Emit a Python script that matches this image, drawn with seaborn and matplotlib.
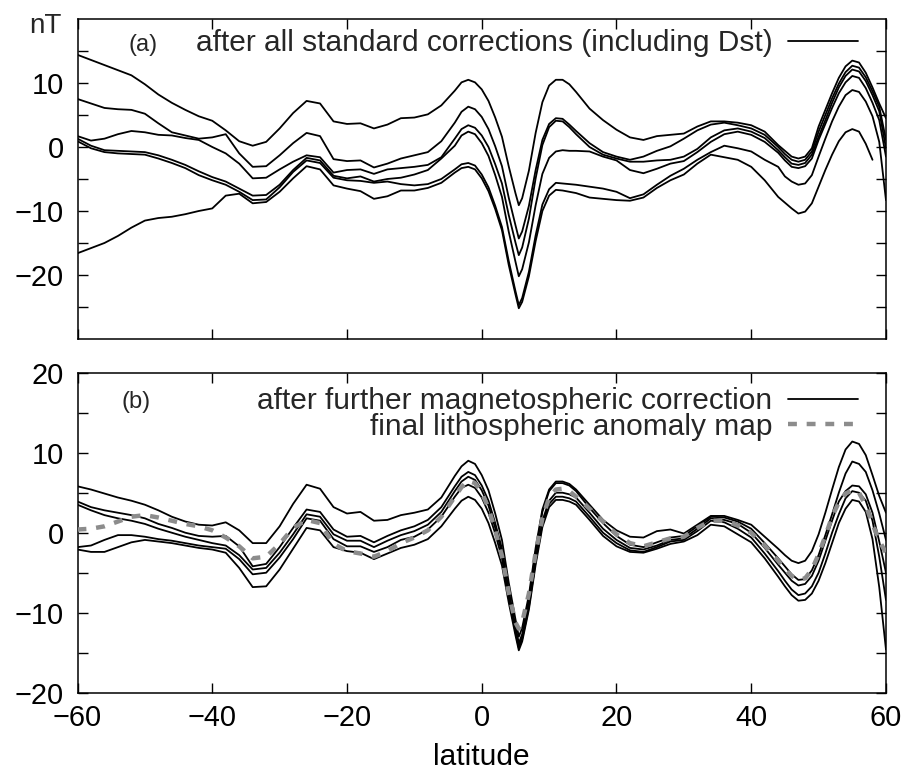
import numpy as np
import pandas as pd
import matplotlib
matplotlib.use("Agg")
import matplotlib.pyplot as plt
import seaborn as sns

# ---------------- data (nT vs latitude) ----------------
lat = [-60, -58, -56, -54, -52, -50, -48, -46, -44, -42, -40, -38, -36, -34, -32, -30, -28, -26, -24, -22,
       -20, -18, -16, -14, -12, -10, -8, -6, -4,
       -3, -2, -1, 0, 1, 2, 3, 4, 5, 5.5, 6, 7, 8, 9, 10, 11, 12, 13, 14,
       16, 18, 20, 22, 24, 26, 28, 30, 32, 34, 36, 38, 40, 42, 44,
       45, 46, 47, 48, 49, 50, 51, 52, 53, 54, 55, 56, 57, 58, 59, 60]

# panel (a): after all standard corrections (including Dst)
a1 = [14.4, 13.6, 12.8, 12.0, 11.2, 9.8, 8.2, 6.9, 5.8, 4.8, 4.1, 2.6, 0.9, 0.2, 0.8, 2.9, 5.3, 7.2, 6.8, 4.0,
      3.6, 3.7, 2.9, 3.5, 4.5, 4.6, 5.1, 6.5, 8.8,
      10.1, 10.5, 10.1, 9.0, 7.2, 4.6, 1.6, -3.0, -7.2, -9.1, -8.0, -3.7, 2.2, 7.0, 9.6, 10.5, 10.5, 9.8, 8.6,
      6.0, 4.2, 2.7, 1.5, 1.1, 1.7, 1.9, 2.1, 3.2, 4.0, 4.0, 3.8, 3.4, 2.4, 0.3,
      -0.6, -1.5, -1.8, -1.5, -0.2, 3.2, 5.8, 8.4, 10.8, 12.6, 13.5, 13.2, 11.6, 9.3, 6.8, 4.5]
a2 = [7.5, 6.8, 6.1, 5.9, 5.8, 5.2, 3.7, 2.3, 1.8, 1.3, 1.5, 2.0, -1.0, -3.1, -3.0, -1.3, 0.6, 2.2, 1.7, -1.9,
      -2.2, -2.1, -3.2, -2.6, -1.8, -1.3, -0.8, 0.9, 3.8,
      5.5, 6.3, 5.9, 4.7, 2.8, 0.1, -3.0, -7.9, -12.2, -14.3, -13.2, -9.2, -3.6, 1.1, 3.6, 4.5, 4.4, 3.5, 2.5,
      0.6, -0.8, -1.5, -2.0, -1.5, -0.6, 0.1, 1.3, 2.6, 3.5, 3.8, 3.4, 2.9, 1.9, 0.0,
      -1.1, -2.0, -2.3, -2.0, -0.7, 2.4, 5.0, 7.6, 9.9, 11.7, 12.7, 12.4, 10.9, 8.7, 6.3, 1.1]
a3 = [1.7, 1.0, 1.3, 2.0, 2.5, 2.3, 1.9, 1.8, 1.4, 1.1, 0.0, -1.0, -2.6, -4.9, -4.8, -3.5, -2.3, -1.3, -1.6, -4.0,
      -3.6, -3.5, -4.2, -3.5, -3.3, -3.1, -2.8, -1.6, 1.3,
      2.8, 3.4, 3.0, 1.8, 0.0, -2.7, -5.7, -10.6, -14.9, -16.9, -15.7, -11.2, -4.9, 0.3, 3.1, 4.1, 4.0, 3.1, 2.0,
      0.0, -1.2, -1.8, -2.3, -2.3, -2.1, -2.0, -1.5, -0.3, 1.5, 2.6, 2.9, 2.4, 1.4, -0.5,
      -1.6, -2.6, -2.8, -2.5, -1.2, 1.6, 4.2, 6.9, 9.3, 11.1, 12.1, 11.8, 10.3, 8.1, 5.6, -0.2]
a4 = [1.3, 0.2, -0.5, -0.6, -0.7, -0.8, -1.3, -2.0, -2.8, -3.8, -4.7, -5.4, -6.5, -7.6, -7.5, -5.9, -3.6, -1.7, -2.1, -4.5,
      -4.9, -4.6, -5.4, -5.0, -4.8, -4.3, -3.6, -1.8, 0.2,
      1.8, 2.4, 2.0, 0.6, -1.4, -4.4, -7.8, -13.2, -17.9, -20.2, -19.1, -14.9, -9.1, -4.2, -1.7, -0.7, -0.5, -0.6, -0.6,
      -0.7, -1.5, -2.1, -3.6, -4.1, -3.4, -2.6, -2.2, -0.8, 0.8, 2.0, 2.4, 1.9, 0.8, -0.9,
      -2.1, -3.1, -3.3, -3.0, -1.8, 1.1, 3.6, 6.1, 8.4, 10.1, 11.1, 10.8, 9.2, 6.9, 4.2, -1.5]
a5 = [0.9, -0.2, -0.8, -1.0, -1.1, -1.2, -1.8, -2.5, -3.3, -4.4, -5.2, -5.9, -7.0, -8.3, -8.2, -6.3, -3.9, -2.1, -2.5, -4.8,
      -5.2, -5.3, -5.6, -5.4, -5.8, -6.0, -5.8, -5.0, -3.5,
      -2.7, -2.5, -2.9, -4.3, -6.3, -9.2, -12.5, -17.8, -22.5, -24.7, -23.6, -19.5, -13.8, -9.0, -6.6, -5.6, -5.7, -5.8, -5.9,
      -6.2, -6.5, -7.0, -8.0, -7.4, -5.9, -4.5, -3.4, -2.0, -0.8, 0.2, -0.2, -0.7, -2.0, -3.1,
      -4.6, -5.4, -5.9, -5.7, -4.4, -1.5, 1.3, 4.0, 6.3, 8.1, 8.9, 8.6, 7.1, 4.8, 0.8, -8.3]
a6 = [-16.6, -15.8, -15.0, -13.9, -12.6, -11.5, -11.1, -10.9, -10.5, -10.0, -9.6, -7.6, -7.3, -8.8, -8.6, -7.0, -4.9, -3.0, -3.5, -6.0,
      -6.5, -6.9, -8.1, -7.7, -6.8, -6.8, -6.4, -5.6, -4.0,
      -3.3, -3.1, -3.5, -4.9, -6.9, -9.7, -13.0, -18.4, -23.0, -25.2, -24.2, -20.2, -14.7, -10.0, -7.6, -6.7, -6.8, -7.0, -7.2,
      -7.9, -8.1, -8.3, -8.4, -7.9, -6.4, -5.2, -4.3, -2.6, -1.2, -1.6, -2.0, -3.1, -5.2, -7.8,
      -8.7, -9.6, -10.4, -10.1, -8.8, -6.2, -3.6, -1.2, 0.9, 2.3, 2.8, 2.4, 0.5, -2.0, np.nan, np.nan]

# panel (b): after further magnetospheric correction
b1 = [5.8, 5.4, 4.9, 4.4, 4.0, 3.5, 2.8, 2.0, 1.4, 1.0, 0.9, 1.3, 0.3, -1.3, -1.3, 0.8, 3.6, 6.0, 5.5, 3.2,
      2.4, 2.6, 1.5, 1.6, 2.2, 2.5, 2.9, 4.4, 7.1,
      8.3, 9.0, 8.6, 7.2, 5.3, 2.4, -0.9, -6.2, -10.8, -13.0, -11.9, -7.8, -1.9, 2.9, 5.4, 6.4, 6.4, 6.1, 5.4,
      3.5, 1.6, 0.3, -0.5, -0.6, 0.2, 0.4, -0.1, 1.0, 2.1, 2.1, 1.6, 1.0, -0.5, -2.0,
      -2.8, -3.5, -3.8, -3.5, -2.3, -0.2, 2.5, 5.4, 8.2, 10.4, 11.4, 11.1, 9.7, 7.2, 4.6, 2.5]
b2 = [3.9, 3.2, 2.8, 2.5, 2.2, 1.8, 1.1, 0.6, 0.0, -0.4, -0.5, -0.4, -1.7, -4.2, -3.9, -1.8, 0.6, 2.9, 2.6, 0.4,
      -0.5, -0.4, -1.2, -0.4, 0.3, 0.8, 1.6, 3.2, 5.8,
      7.0, 7.6, 7.2, 5.9, 4.0, 1.2, -2.0, -7.2, -11.7, -13.8, -12.7, -8.4, -2.4, 2.6, 5.2, 6.2, 6.2, 5.9, 5.2,
      3.1, 1.2, -0.4, -1.5, -1.8, -1.2, -0.6, -0.4, 0.8, 2.0, 1.9, 1.4, 0.5, -1.3, -3.2,
      -4.2, -5.2, -5.9, -5.8, -4.7, -2.8, -0.3, 2.3, 5.0, 7.4, 8.9, 8.6, 7.6, 5.3, 2.4, -0.9]
b3 = [3.5, 2.8, 2.2, 1.8, 1.5, 1.1, 0.5, 0.0, -0.5, -0.9, -1.3, -1.6, -2.8, -4.6, -4.4, -2.5, -0.2, 2.3, 2.0, -0.2,
      -1.0, -1.0, -1.8, -1.0, -0.3, 0.2, 1.0, 2.6, 5.2,
      6.4, 7.0, 6.6, 5.3, 3.4, 0.6, -2.5, -7.6, -12.1, -14.2, -13.1, -9.0, -3.3, 1.5, 4.0, 5.0, 5.0, 4.8, 4.4,
      2.5, 0.5, -0.9, -1.9, -2.1, -1.6, -0.9, -0.7, 0.5, 1.8, 1.6, 1.1, 0.0, -1.9, -4.0,
      -5.0, -6.0, -6.6, -6.4, -5.4, -3.5, -1.0, 1.5, 3.9, 5.2, 5.9, 5.8, 4.8, 2.5, -1.1, -5.0]
b4 = [-1.8, -1.6, -0.9, -0.3, -0.3, -0.5, -0.8, -1.0, -1.3, -1.6, -1.8, -2.0, -3.3, -5.2, -5.0, -3.1, -0.8, 1.8, 1.5, -0.8,
      -1.7, -1.7, -2.4, -1.8, -0.9, -0.5, 0.4, 2.0, 4.5,
      5.6, 6.0, 5.6, 4.4, 2.5, -0.1, -3.2, -8.1, -12.4, -14.4, -13.3, -9.3, -3.6, 1.1, 3.6, 4.5, 4.5, 4.3, 3.9,
      2.0, 0.0, -1.3, -2.2, -2.4, -1.8, -1.1, -0.9, 0.2, 1.5, 1.3, 0.5, -0.6, -2.6, -4.8,
      -6.0, -7.1, -7.8, -7.6, -6.7, -5.0, -2.6, 0.0, 2.3, 4.3, 5.2, 5.0, 4.0, 1.5, -3.0, -8.4]
b5 = [-2.1, -2.4, -2.4, -1.8, -1.2, -0.9, -1.1, -1.3, -1.6, -1.9, -2.1, -2.5, -4.4, -6.8, -6.7, -4.6, -2.0, 0.6, 0.3, -1.8,
      -2.3, -2.5, -3.3, -2.6, -1.9, -1.5, -0.8, 0.8, 3.0,
      4.0, 4.5, 4.1, 3.0, 1.2, -1.3, -4.1, -8.7, -12.8, -14.7, -13.6, -9.6, -4.0, 0.7, 3.2, 4.1, 4.1, 3.9, 3.5,
      1.6, -0.4, -1.7, -2.4, -2.5, -2.0, -1.4, -1.1, -0.3, 1.0, 0.8, -0.2, -1.2, -3.2, -5.5,
      -6.7, -7.8, -8.5, -8.4, -7.6, -6.0, -3.8, -1.3, 1.2, 3.0, 4.1, 3.9, 2.6, -0.8, -6.8, -14.6]
# panel (b): final lithospheric anomaly map
b_final = [0.4, 0.5, 0.8, 1.4, 2.0, 2.2, 1.9, 1.5, 1.1, 0.8, 0.3, -0.6, -1.7, -3.2, -3.0, -1.4, 0.6, 1.6, 1.2, -1.4,
           -2.3, -2.6, -3.0, -2.3, -1.3, -0.6, 0.3, 2.0, 4.5,
           5.7, 6.5, 6.2, 5.0, 3.1, 0.3, -2.9, -7.5, -11.2, -12.0, -11.2, -7.6, -2.5, 1.8, 4.4, 5.4, 5.5, 5.2, 4.5,
           3.0, 1.4, -0.2, -1.3, -1.7, -1.2, -0.7, -0.5, 0.6, 1.5, 1.5, 0.9, 0.0, -1.6, -3.5,
           -4.5, -5.4, -5.9, -5.7, -4.6, -2.7, -0.4, 2.0, 3.8, 4.9, 5.3, 5.0, 3.4, 1.1, -1.0, -2.5]

label_a = "after all standard corrections (including Dst)"
label_b1 = "after further magnetospheric correction"
label_b2 = "final lithospheric anomaly map"
xticks = [-60, -40, -20, 0, 20, 40, 60]

# ---------------- tables ----------------
curves_a = [a1, a2, a3, a4, a5, a6]
curves_b = [b1, b2, b3, b4, b5]
df_a = pd.concat([pd.DataFrame({"latitude": lat, "nT": c, "track": i}) for i, c in enumerate(curves_a)],
                 ignore_index=True)
df_b = pd.concat([pd.DataFrame({"latitude": lat, "nT": c, "track": i}) for i, c in enumerate(curves_b)],
                 ignore_index=True)
df_f = pd.DataFrame({"latitude": lat, "nT": b_final})

# ---------------- style ----------------
sns.set_theme(style="white")
plt.rcParams["font.family"] = ["Liberation Sans", "DejaVu Sans"]
plt.rcParams["axes.linewidth"] = 1.1
plt.rcParams["axes.edgecolor"] = "black"

fig = plt.figure(figsize=(9.13, 7.72), dpi=100)
axA = fig.add_axes([0.0849, 0.5609, 0.8855, 0.4145])
axB = fig.add_axes([0.0849, 0.1027, 0.8855, 0.4145])

sns.lineplot(data=df_a, x="latitude", y="nT", units="track", estimator=None, sort=False,
             color="black", linewidth=1.3, ax=axA, legend=False)
sns.lineplot(data=df_b, x="latitude", y="nT", units="track", estimator=None, sort=False,
             color="black", linewidth=1.3, ax=axB, legend=False)
sns.lineplot(data=df_f, x="latitude", y="nT", estimator=None, sort=False,
             color="0.55", linewidth=3.2, ax=axB, legend=False)
final_line = axB.lines[-1]
final_line.set_dashes([2.0, 2.2])
final_line.set_zorder(3)

FS = 21.5
for ax, (lo, hi), majors, minors in [
        (axA, (-30, 20), [-20, -10, 0, 10], [-25, -15, -5, 5, 15]),
        (axB, (-20, 20), [-20, -10, 0, 10, 20], [-15, -5, 5, 15])]:
    ax.set_xlim(-60, 60)
    ax.set_ylim(lo, hi)
    ax.set_xticks(xticks)
    ax.set_yticks(majors)
    ax.set_yticks(minors, minor=True)
    ax.tick_params(which="both", direction="in", top=True, right=True, bottom=True, left=True,
                   length=7.5, width=1.0, color="black", labelsize=FS - 0.7, labelcolor="black")
    ax.tick_params(axis="y", which="both", pad=10)
    ax.tick_params(axis="x", which="both", pad=8)
    ax.set_ylabel("")
    ax.set_xlabel("")
    for s in ax.spines.values():
        s.set_visible(True)
        s.set_color("black")
        s.set_linewidth(1.1)

axA.tick_params(labelbottom=False)
axB.set_xlabel("latitude", fontsize=FS, labelpad=8, color="black")

# panel labels and unit
axA.text(0.0625, 0.919, "(a)", transform=axA.transAxes, fontsize=17, va="center", ha="left")
axB.text(0.055, 0.908, "(b)", transform=axB.transAxes, fontsize=17, va="center", ha="left")
fig.text(62 / 913, 1 - 33 / 772, "nT", ha="right", va="baseline", fontsize=20)

# legends (text first, key after)
axA.legend([axA.lines[0]], [label_a], loc="center right", bbox_to_anchor=(0.9654, 0.925),
           frameon=False, markerfirst=False, handlelength=2.34, handletextpad=0.53,
           borderpad=0, borderaxespad=0, fontsize=FS)
axB.legend([axB.lines[0], final_line], [label_b1, label_b2], loc="center right",
           bbox_to_anchor=(0.9654, 0.871), frameon=False, markerfirst=False,
           handlelength=2.34, handletextpad=0.53, borderpad=0, borderaxespad=0,
           labelspacing=-0.1, fontsize=FS)

fig.savefig("out.png", dpi=100, facecolor="white")
